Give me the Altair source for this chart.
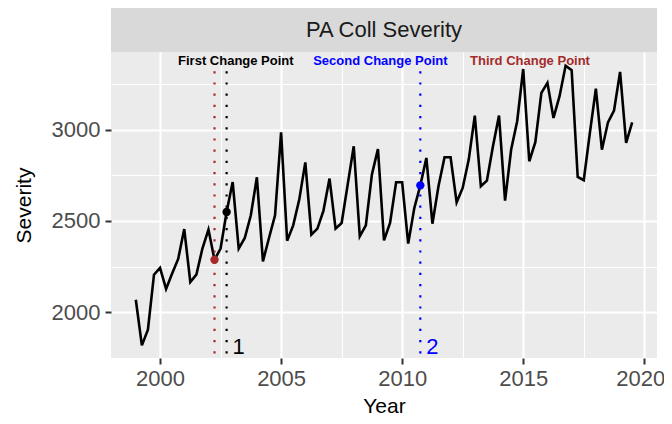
import altair as alt
import pandas as pd

# ---- data ----
severity = [
    2069, 1819, 1905, 2206,   # 1999
    2243, 2128, 2212, 2292,   # 2000
    2456, 2166, 2206, 2349,   # 2001
    2453, 2288, 2349, 2549,   # 2002
    2713, 2349, 2407, 2531,   # 2003
    2739, 2279, 2407, 2531,   # 2004
    2985, 2392, 2476, 2617,   # 2005
    2821, 2425, 2458, 2557,   # 2006
    2732, 2458, 2489, 2699,   # 2007
    2909, 2416, 2476, 2754,   # 2008
    2894, 2394, 2489, 2712,   # 2009
    2712, 2376, 2570, 2695,   # 2010
    2845, 2485, 2690, 2849,   # 2011
    2849, 2602, 2681, 2836,   # 2012
    3077, 2690, 2721, 2909,   # 2013
    3077, 2611, 2890, 3046,   # 2014
    3332, 2827, 2931, 3201,   # 2015
    3256, 3064, 3183, 3350,   # 2016
    3325, 2741, 2723, 2980,   # 2017
    3224, 2890, 3040, 3104,   # 2018
    3316, 2927, 3040,         # 2019
]
start_year = 1999
years = [start_year + i / 4 for i in range(len(severity))]

cp_years = [2002.75, 2010.75, 2002.25]
cp_colors = ["#000000", "#0000FF", "#A52A2A"]
cp_numbers = ["1", "2", ""]

header_labels = ["First Change Point", "Second Change Point", "Third Change Point"]
header_x = [2003.13, 2009.1, 2015.28]
header_y = 3378

seg_top = 3320
number_y = 1812

strip_title = "PA Coll Severity"
x_title = "Year"
y_title = "Severity"

x_domain = [1997.975, 2020.525]
y_domain = [1750, 3425]
x_major = [2000, 2005, 2010, 2015, 2020]
x_minor = [2002.5, 2007.5, 2012.5, 2017.5]
y_major = [2000, 2500, 3000]
y_minor = [1750, 2250, 2750, 3250]

# ---- tables ----
series_df = pd.DataFrame({"year": years, "value": severity})
cp_values = [severity[years.index(y)] for y in cp_years]
cp_df = pd.DataFrame({
    "year": cp_years, "value": cp_values, "top": [seg_top] * 3,
    "bottom": [y_domain[0]] * 3, "color": cp_colors, "num": cp_numbers,
    "num_y": [number_y] * 3,
})
head_df = pd.DataFrame({"year": header_x, "value": [header_y] * 3,
                        "label": header_labels, "color": cp_colors})
strip_df = pd.DataFrame({"t": [strip_title]})

W, H = 546, 306
FONT = "Liberation Sans"


def xenc(field="year"):
    return alt.X(
        f"{field}:Q",
        scale=alt.Scale(domain=x_domain, nice=False, zero=False),
        axis=alt.Axis(
            values=sorted(x_major + x_minor), title=x_title, format="d",
            gridWidth={"condition": {"test": "datum.value % 5 === 0", "value": 2.2}, "value": 1.1},
            tickOpacity={"condition": {"test": "datum.value % 5 === 0", "value": 1}, "value": 0},
            labelExpr="datum.value % 5 === 0 ? datum.label : ''",
            labelOffset={"condition": {"test": "datum.value === 2020", "value": -4}, "value": 0},
            labelPadding=4, titleBaseline="alphabetic", titleY=54,
        ),
    )


def yenc(field="value"):
    return alt.Y(
        f"{field}:Q",
        scale=alt.Scale(domain=y_domain, nice=False, zero=False),
        axis=alt.Axis(
            values=sorted(y_major + y_minor), title=y_title, format="d",
            gridWidth={"condition": {"test": "datum.value % 500 === 0", "value": 2.2}, "value": 1.1},
            tickOpacity={"condition": {"test": "datum.value % 500 === 0", "value": 1}, "value": 0},
            labelExpr="datum.value % 500 === 0 ? datum.label : ''",
            labelPadding=5, titleAngle=270, titleBaseline="middle", titleX=-87,
        ),
    )


line = alt.Chart(series_df).mark_line(color="black", strokeWidth=2.6).encode(
    x=xenc(), y=yenc()
)

rules = alt.Chart(cp_df).mark_rule(strokeWidth=2.2, strokeDash=[2.2, 9]).encode(
    x=xenc(), y=yenc("top"), y2="bottom:Q",
    color=alt.Color("color:N", scale=None),
)

points = alt.Chart(cp_df).mark_point(filled=True, size=70, opacity=1).encode(
    x=xenc(), y=yenc(), color=alt.Color("color:N", scale=None),
)

nums = alt.Chart(cp_df).mark_text(
    align="left", baseline="middle", dx=6, fontSize=22, font=FONT
).encode(
    x=xenc(), y=yenc("num_y"), text="num:N", color=alt.Color("color:N", scale=None),
)

heads = alt.Chart(head_df).mark_text(
    align="center", baseline="middle", fontSize=13, fontWeight="bold", font=FONT
).encode(
    x=xenc(), y=yenc(), text="label:N", color=alt.Color("color:N", scale=None),
)

strip_bg = alt.Chart(strip_df).mark_rect(color="#D9D9D9").encode(
    x=alt.value(0), x2=alt.value(W), y=alt.value(-45), y2=alt.value(0)
)
strip_txt = alt.Chart(strip_df).mark_text(
    align="center", baseline="middle", fontSize=22, font=FONT, color="#1A1A1A"
).encode(x=alt.value(W / 2), y=alt.value(-22), text="t:N")

chart = alt.layer(strip_bg, strip_txt, line, rules, points, nums, heads).properties(
    width=W, height=H,
    autosize=alt.AutoSizeParams(type="none"),
    padding={"left": 103, "top": 44, "right": 7, "bottom": 58},
).configure_view(
    fill="#EBEBEB", stroke=None
).configure_axis(
    domain=False, gridColor="white", tickColor="#333333", tickSize=6, tickWidth=2,
    labelColor="#4D4D4D", labelFontSize=22, labelFont=FONT,
    titleColor="black", titleFontSize=21, titleFont=FONT, titleFontWeight="normal",
)

chart.save("out.html", embed_options={"renderer": "svg", "actions": False})
